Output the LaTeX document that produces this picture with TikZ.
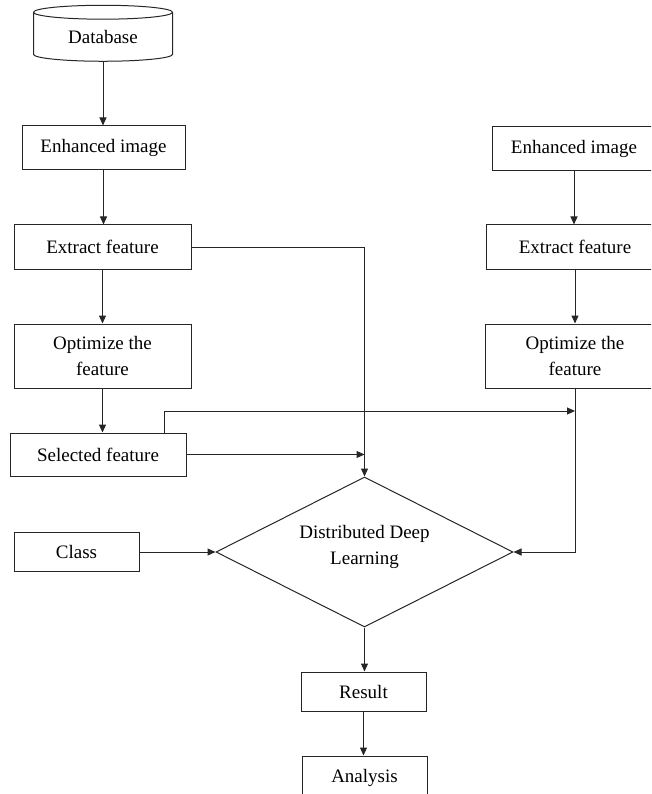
\documentclass[tikz,border=0pt]{standalone}
\usepackage{fontspec}
\setmainfont{Liberation Serif}
\usepackage{tikz}
\usetikzlibrary{shapes,arrows,positioning,calc,arrows.meta}

\tikzset{
    procbox/.style={draw=black!85, line width=1pt, rectangle, inner sep=0pt, align=center,
        font=\rmfamily\fontsize{19}{26}\selectfont},
    flowarrow/.style={draw=black!85, line width=1pt, -{Triangle[length=8pt,width=7pt]}},
}

\begin{document}
\begin{tikzpicture}[x=1pt, y=-1pt]
    \clip (0,0) rectangle (651,794);
    \node[procbox, cylinder, shape border rotate=90, aspect=0.2, minimum width=139pt, minimum height=56pt] (db) at (103,37) {Database};
    \node[procbox, minimum width=163pt, minimum height=44pt] (enh1) at (103.5,148) {Enhanced image};
    \node[procbox, minimum width=177pt, minimum height=44pt] (ext1) at (102.5,247) {Extract feature};
    \node[procbox, minimum width=177pt, minimum height=64pt] (opt1) at (102.5,356) {Optimize the\\feature};
    \node[procbox, minimum width=176pt, minimum height=43pt] (sel) at (98,454.5) {Selected feature};
    \node[procbox, minimum width=125pt, minimum height=39pt] (class) at (76.5,552) {Class};
    \node[procbox, diamond, aspect=2, minimum width=297pt, minimum height=150pt, text depth=14pt] (ddl) at (364.5,552) {Distributed Deep\\Learning};
    \node[procbox, minimum width=125pt, minimum height=39pt] (res) at (363.5,691.5) {Result};
    \node[procbox, minimum width=125pt, minimum height=44pt] (ana) at (364.5,778) {Analysis};
    \node[procbox, minimum width=164pt, minimum height=44pt] (enh2) at (574,148.5) {Enhanced image};
    \node[procbox, minimum width=178pt, minimum height=44pt] (ext2) at (575,247) {Extract feature};
    \node[procbox, minimum width=180pt, minimum height=64pt] (opt2) at (575,356) {Optimize the\\feature};
    \coordinate (tap) at (575,411);

    \draw[flowarrow] (db.south) -- (db.south |- enh1.north);
    \draw[flowarrow] (enh1.south) -- (enh1.south |- ext1.north);
    \draw[flowarrow] (ext1.south) -- (ext1.south |- opt1.north);
    \draw[flowarrow] (opt1.south) -- (opt1.south |- sel.north);
    \draw[flowarrow] (ext1.east) -| (ddl.north);
    \draw[flowarrow] (sel.east) -- (sel.east -| ddl.north);
    \draw[flowarrow] ([xshift=-22pt]sel.north east) |- (tap);
    \draw[flowarrow] (opt2.south) |- (ddl.east);
    \draw[flowarrow] (class.east) -- (ddl.west);
    \draw[flowarrow] (ddl.south) -- (ddl.south |- res.north);
    \draw[flowarrow] (res.south) -- (res.south |- ana.north);
    \draw[flowarrow] (enh2.south) -- (enh2.south |- ext2.north);
    \draw[flowarrow] (ext2.south) -- (ext2.south |- opt2.north);
\end{tikzpicture}
\end{document}
